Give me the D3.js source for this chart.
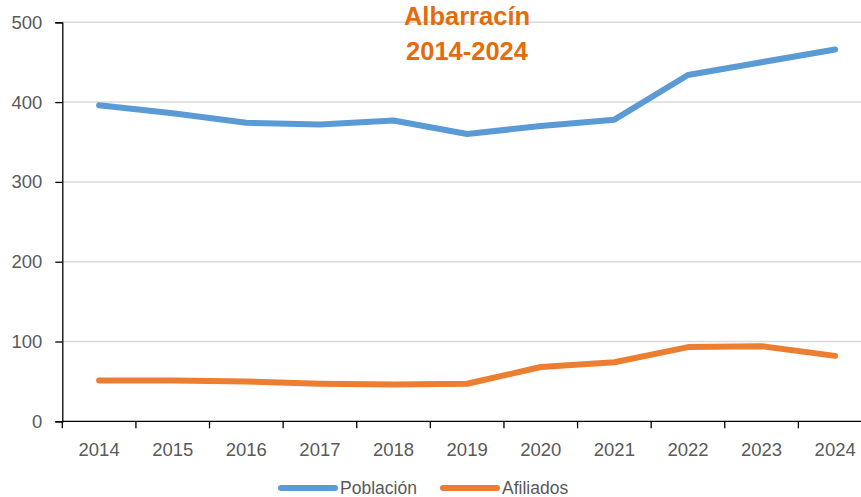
<!DOCTYPE html>
<html>
<head>
<meta charset="utf-8">
<script src="https://cdn.jsdelivr.net/npm/d3@7"></script>
<style>
  body { margin: 0; background: #fff; }
  svg { display: block; font-family: "Liberation Sans", Arial, sans-serif; }
</style>
</head>
<body>
<div id="chart"></div>
<script>
// data
var years = ['2014', '2015', '2016', '2017', '2018', '2019', '2020', '2021', '2022', '2023', '2024'];
var poblacion = [396, 386, 374, 372, 377, 360, 370, 378, 434, 450, 466];
var afiliados = [51, 51, 50, 47, 46, 47, 68, 74, 93, 94, 82];
var y_ticks = [0, 100, 200, 300, 400, 500];
var series_names = ['Población', 'Afiliados'];
var series_colors = ['#5B9BD5', '#ED7D31'];

var chart_width = 861;
var chart_height = 497;

var svg = d3
  .select('#chart')
  .append('svg')
  .attr('width', chart_width)
  .attr('height', chart_height);

// scales
var x_scale = d3
  .scaleBand()
  .domain(years)
  .range([62.3, 872]);
var y_scale = d3
  .scaleLinear()
  .domain([0, 500])
  .range([421.3, 22.3]);

// gridlines
svg
  .selectAll('.grid')
  .data(y_ticks.slice(1))
  .enter()
  .append('line')
  .attr('x1', 62.3)
  .attr('x2', chart_width)
  .attr('y1', function(d) { return y_scale(d); })
  .attr('y2', function(d) { return y_scale(d); })
  .attr('stroke', '#d9d9d9')
  .attr('stroke-width', 1.5);

// y axis
var y_axis = svg
  .append('g')
  .attr('transform', 'translate(62.3,0)')
  .call(d3.axisLeft(y_scale).tickValues(y_ticks).tickSize(7).tickPadding(13));
y_axis.select('.domain').attr('stroke', '#000').attr('stroke-width', 1.3);
y_axis.selectAll('.tick line').attr('stroke', '#000').attr('stroke-width', 1.3);
y_axis.selectAll('text')
  .attr('fill', '#595959')
  .style('font-size', '18.5px');

// x axis with ticks at band edges
var x_axis = svg
  .append('g')
  .attr('transform', 'translate(0,421.3)');
x_axis
  .append('line')
  .attr('x1', 62.3)
  .attr('x2', chart_width)
  .attr('stroke', '#000')
  .attr('stroke-width', 1.3);
x_axis
  .selectAll('.xtick')
  .data(years)
  .enter()
  .append('line')
  .attr('x1', function(d) { return x_scale(d); })
  .attr('x2', function(d) { return x_scale(d); })
  .attr('y1', 0)
  .attr('y2', 7)
  .attr('stroke', '#000')
  .attr('stroke-width', 1.3);
x_axis
  .selectAll('.xlabel')
  .data(years)
  .enter()
  .append('text')
  .attr('x', function(d) { return x_scale(d) + x_scale.bandwidth() / 2; })
  .attr('y', 35)
  .attr('text-anchor', 'middle')
  .attr('fill', '#595959')
  .style('font-size', '18.5px')
  .text(function(d) { return d; });

// lines
var line = d3
  .line()
  .x(function(d, i) { return x_scale(years[i]) + x_scale.bandwidth() / 2; })
  .y(function(d) { return y_scale(d); });

[poblacion, afiliados].forEach(function(values, k) {
  svg
    .append('path')
    .datum(values)
    .attr('d', line)
    .attr('fill', 'none')
    .attr('stroke', series_colors[k])
    .attr('stroke-width', 6)
    .attr('stroke-linecap', 'round')
    .attr('stroke-linejoin', 'round');
});

// title
var title = svg
  .append('text')
  .attr('text-anchor', 'middle')
  .attr('fill', '#E46C0A')
  .style('font-size', '25.5px')
  .style('font-weight', 'bold');
title.append('tspan').attr('x', 467).attr('y', 25).text('Albarracín');
title.append('tspan').attr('x', 467).attr('y', 60).text('2014-2024');

// legend
var legend_x = [281, 443];
series_names.forEach(function(name, k) {
  var g = svg.append('g').attr('transform', 'translate(' + legend_x[k] + ',488)');
  g.append('line')
    .attr('x1', 0)
    .attr('x2', 54)
    .attr('stroke', series_colors[k])
    .attr('stroke-width', 6)
    .attr('stroke-linecap', 'round');
  g.append('text')
    .attr('x', 59)
    .attr('y', 5.5)
    .attr('fill', '#595959')
    .style('font-size', '17.5px')
    .text(name);
});
</script>
</body>
</html>
